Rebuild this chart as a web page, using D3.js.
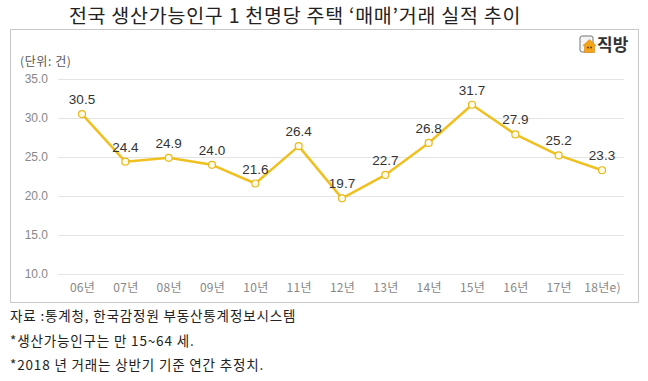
<!DOCTYPE html>
<html>
<head>
<meta charset="utf-8">
<script src="https://cdn.jsdelivr.net/npm/d3@7"></script>
<style>
  body { margin: 0; background: #fff; }
  text { font-family: "Noto Sans CJK KR", "Noto Sans", sans-serif; }
</style>
</head>
<body>
<div id="chart"></div>
<script>
// chart data
const years = ["06년", "07년", "08년", "09년", "10년", "11년", "12년", "13년", "14년", "15년", "16년", "17년", "18년e)"];
const values = [30.5, 24.4, 24.9, 24.0, 21.6, 26.4, 19.7, 22.7, 26.8, 31.7, 27.9, 25.2, 23.3];
const yTicks = [10, 15, 20, 25, 30, 35];
const title = "전국 생산가능인구 1 천명당 주택 ‘매매’거래 실적 추이";
const notes = [
  "자료 :통계청, 한국감정원 부동산통계정보시스템",
  "*생산가능인구는 만 15~64 세.",
  "*2018 년 거래는 상반기 기준 연간 추정치."
];

const width = 648, height = 381;

const svg = d3.select("#chart")
  .append("svg")
    .attr("width", width)
    .attr("height", height);

// title
svg.append("text")
  .attr("x", 295)
  .attr("y", 23)
  .attr("text-anchor", "middle")
  .attr("font-size", 19.5)
  .attr("letter-spacing", 0.75)
  .attr("fill", "#222")
  .text(title);

// box around the plot
svg.append("rect")
  .attr("x", 10.5)
  .attr("y", 29.5)
  .attr("width", 628)
  .attr("height", 273)
  .attr("fill", "#fff")
  .attr("stroke", "#c8c8c8");

// unit label
svg.append("text")
  .attr("x", 20)
  .attr("y", 66)
  .attr("font-size", 12)
  .attr("letter-spacing", 0.6)
  .attr("fill", "#555")
  .text("(단위: 건)");

// logo: little house icon + name
const logo = svg.append("g").attr("transform", "translate(580,36)");
logo.append("rect")
  .attr("x", 0).attr("y", 0).attr("width", 13).attr("height", 16).attr("rx", 2)
  .attr("fill", "#f4f4f4").attr("stroke", "#777").attr("stroke-width", 1);
logo.append("path")
  .attr("d", "M3,9.5 L9.5,3.5 L16,9.5 L14.5,9.5 L14.5,16.5 L4.5,16.5 L4.5,9.5 Z")
  .attr("fill", "#f5a31a").attr("stroke", "#d9860a").attr("stroke-width", 0.6);
logo.append("circle").attr("cx", 8).attr("cy", 11.5).attr("r", 0.9).attr("fill", "#5a3a10");
logo.append("circle").attr("cx", 11).attr("cy", 11.5).attr("r", 0.9).attr("fill", "#5a3a10");
logo.append("text")
  .attr("x", 17)
  .attr("y", 15)
  .attr("font-size", 17)
  .attr("font-weight", "bold")
  .attr("fill", "#333")
  .text("직방");

// scales
const xScale = d3.scalePoint()
  .domain(years)
  .range([82, 602]);

const yScale = d3.scaleLinear()
  .domain([10, 35])
  .range([274, 79]);

// grid lines
svg.append("g")
  .selectAll("line")
  .data(yTicks)
  .enter()
  .append("line")
    .attr("x1", 58)
    .attr("x2", 624)
    .attr("y1", d => yScale(d) + 0.5)
    .attr("y2", d => yScale(d) + 0.5)
    .attr("stroke", "#e4e4e4")
    .attr("stroke-width", 1);

// y axis
const yAxis = svg.append("g")
  .attr("transform", "translate(48,0)")
  .call(d3.axisLeft(yScale).tickValues(yTicks).tickFormat(d3.format(".1f")).tickSize(0).tickPadding(0));
yAxis.select(".domain").remove();
yAxis.selectAll("text")
  .attr("font-size", 12)
  .attr("fill", "#888")
  .style("font-family", "'Liberation Sans', Arial, sans-serif");

// x axis
const xAxis = svg.append("g")
  .attr("transform", "translate(0,283)")
  .call(d3.axisBottom(xScale).tickSize(0).tickPadding(0));
xAxis.select(".domain").remove();
xAxis.selectAll("text")
  .attr("font-size", 12)
  .attr("letter-spacing", 0.3)
  .attr("fill", "#888")
  .attr("dy", "0.71em");

// line
const line = d3.line()
  .x((d, i) => xScale(years[i]))
  .y(d => yScale(d));

svg.append("path")
  .datum(values)
  .attr("d", line)
  .attr("fill", "none")
  .attr("stroke", "#f0c020")
  .attr("stroke-width", 2.5)
  .attr("stroke-linejoin", "round");

// markers
svg.append("g")
  .selectAll("circle")
  .data(values)
  .enter()
  .append("circle")
    .attr("cx", (d, i) => xScale(years[i]))
    .attr("cy", d => yScale(d))
    .attr("r", 3.5)
    .attr("fill", "#fffbea")
    .attr("stroke", "#e8b818")
    .attr("stroke-width", 1.2);

// value labels
svg.append("g")
  .selectAll("text")
  .data(values)
  .enter()
  .append("text")
    .attr("x", (d, i) => xScale(years[i]))
    .attr("y", d => yScale(d) - 10)
    .attr("text-anchor", "middle")
    .attr("font-size", 13.5)
    .attr("fill", "#333")
    .style("font-family", "'Liberation Sans', Arial, sans-serif")
    .text(d => d3.format(".1f")(d));

// footnotes
svg.append("g")
  .selectAll("text")
  .data(notes)
  .enter()
  .append("text")
    .attr("x", 10)
    .attr("y", (d, i) => 321 + i * 24.5)
    .attr("font-size", 13.5)
    .attr("letter-spacing", 0.85)
    .attr("fill", "#222")
    .text(d => d);
</script>
</body>
</html>
